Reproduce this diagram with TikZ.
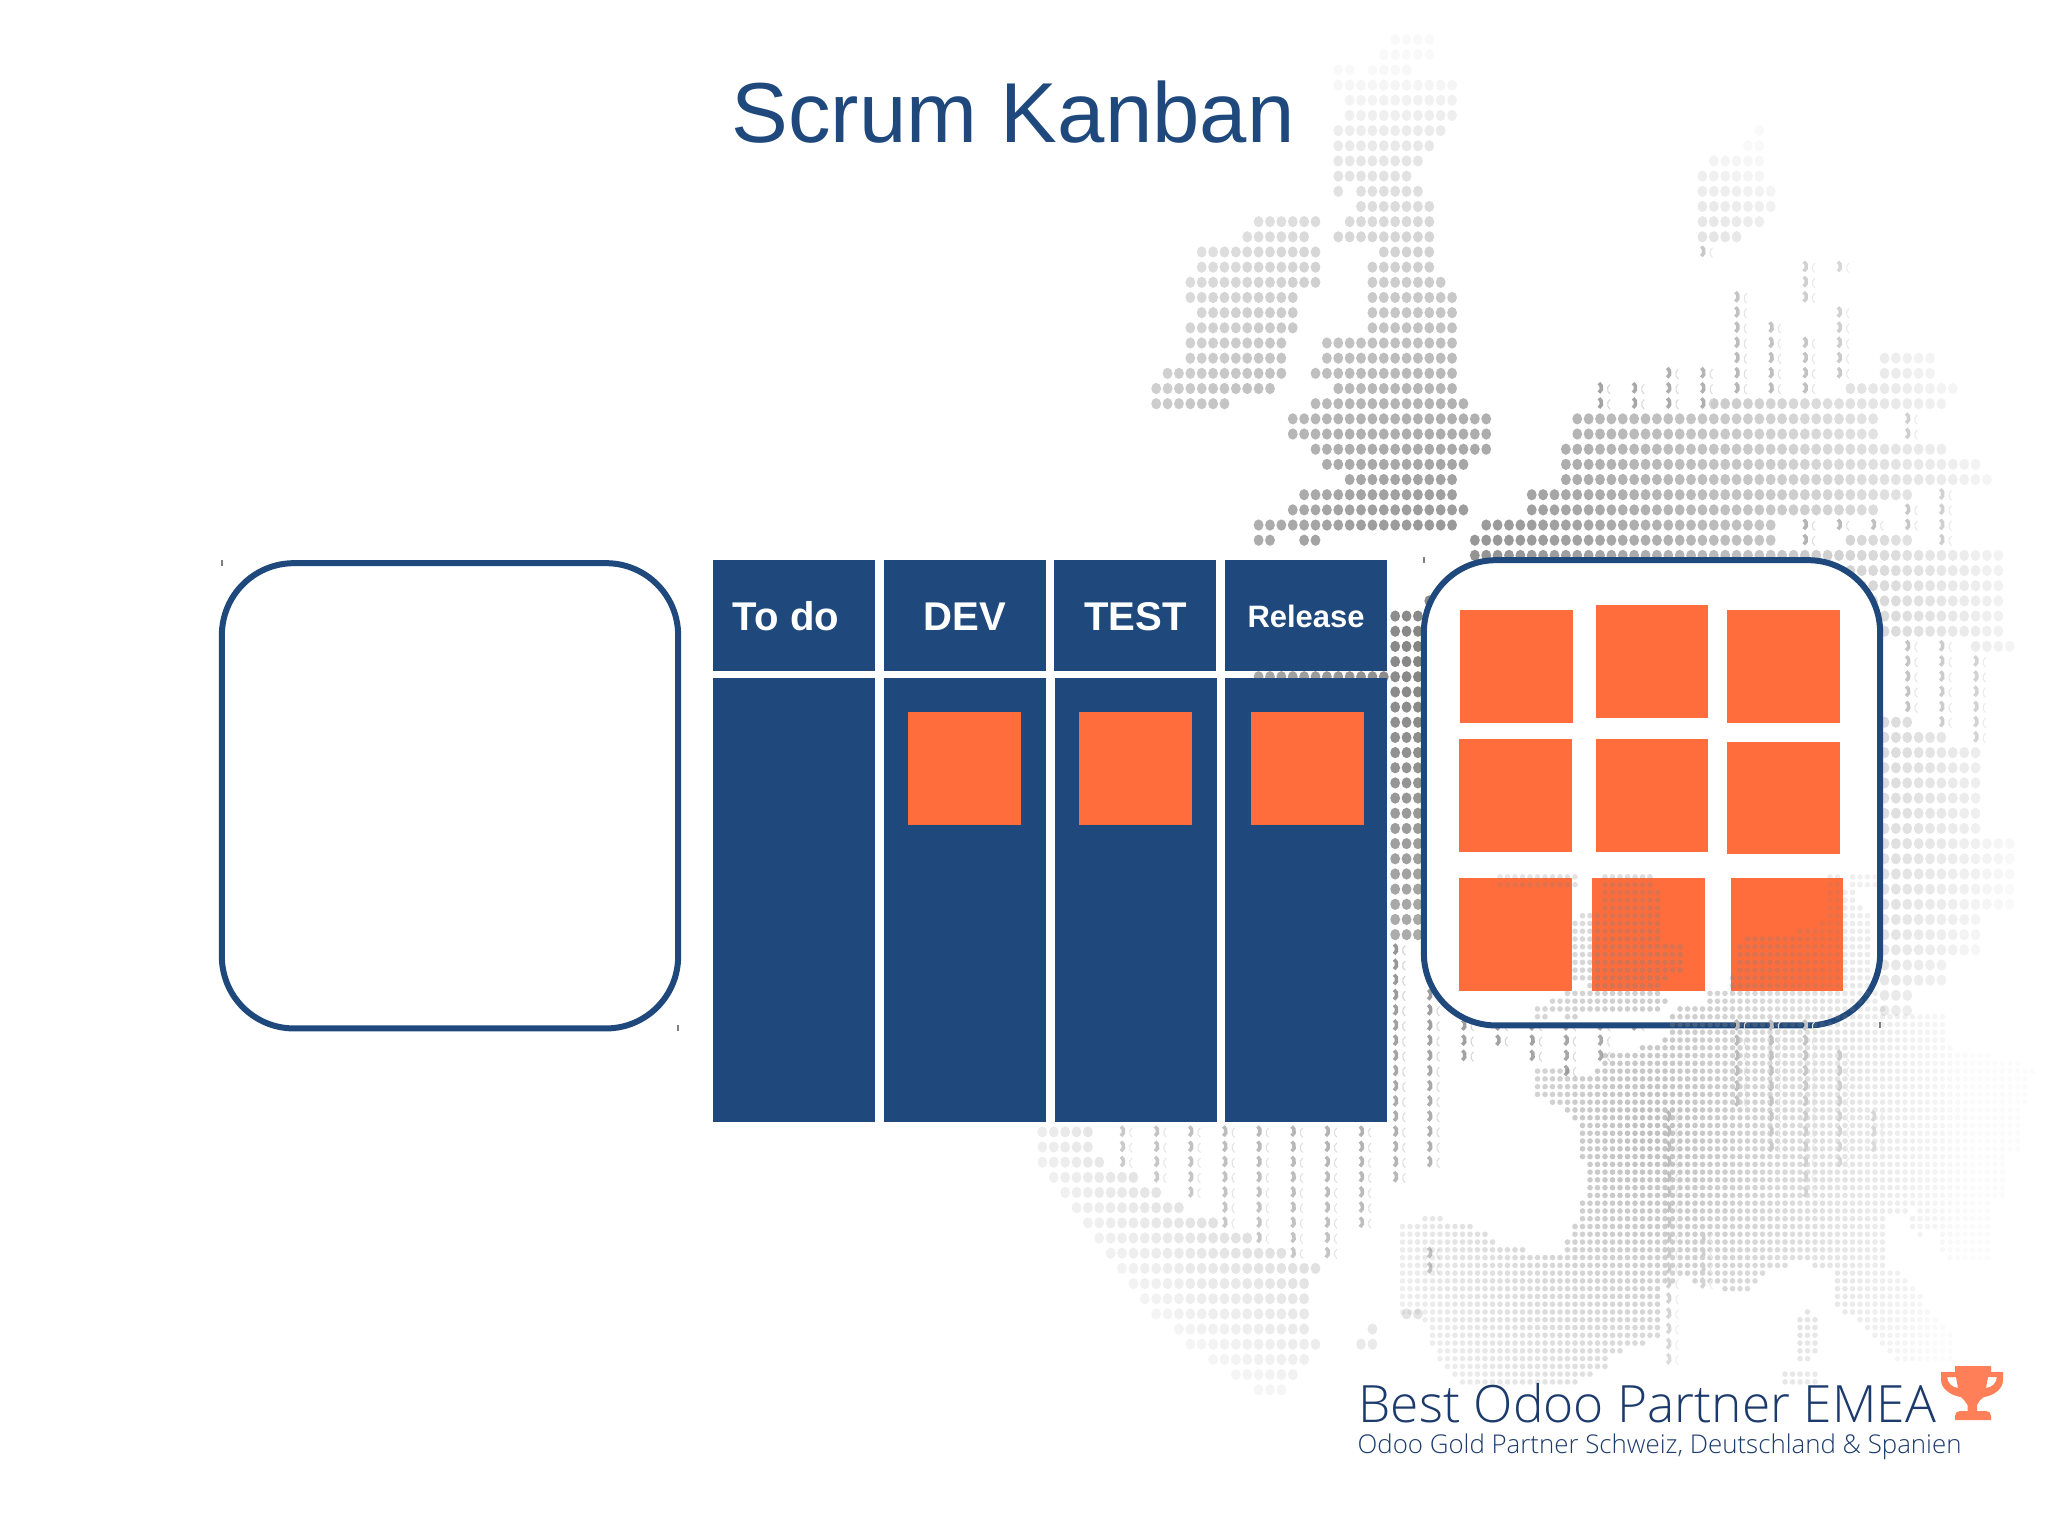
\documentclass[tikz,border=0pt]{standalone}
\usepackage{fontspec}
\setmainfont{Liberation Sans}
\newfontfamily\footfont{Open Sans Light}
\definecolor{boardblue}{HTML}{1F497D}
\definecolor{cardorange}{HTML}{FF6D3C}
\definecolor{cuporange}{HTML}{FF8058}
\definecolor{footnavy}{HTML}{1C3A6B}
\tikzset{
  headcell/.style={fill=boardblue,text=white,font=\bfseries\fontsize{11.4}{13}\selectfont,minimum width=1.62cm,minimum height=1.107cm,inner sep=0pt,text height=.30cm,text depth=0pt},
  bodycell/.style={fill=boardblue,minimum width=1.62cm,minimum height=4.434cm,inner sep=0pt},
  carddot/.style={fill=cardorange,minimum width=1.126cm,minimum height=1.126cm,inner sep=0pt},
  roundbox/.style={draw=boardblue,fill=white,line width=0.06cm,rounded corners=0.72cm,minimum width=4.56cm,minimum height=4.65cm,inner sep=0pt},
}
% dot grids of the map
\newcommand{\shadeat}{\pgfmathsetmacro\shd{max(2.5,50*(1-veclen((\px-1450)*(\px>1450?1.3:1.25),(\py-650)*(\py<650?1.3:.95))/800))}}
\newcommand{\dotrow}[2]{\foreach \ca/\cb in {#2}{\foreach \cc in {\ca,...,\cb}{
  \pgfmathsetmacro\px{1110.67+11.38*\cc}\pgfmathsetmacro\py{39.6+15.17*#1}\shadeat
  \fill[black!\shd] (\px,\py) ellipse (1.4pt and 1.6pt);}}}
\newcommand{\moonrow}[2]{\foreach \cc in {#2}{
  \pgfmathsetmacro\px{1110.67+11.38*\cc}\pgfmathsetmacro\py{39.6+15.17*#1}\shadeat
  \pgfmathsetmacro\shm{min(42,\shd+10)}\pgfmathsetmacro\shp{0.45*\shm}
  \draw[black!\shm,line width=1pt] (\px-3,\py) +(-65:1.3pt) arc (-65:65:1.3pt and 1.5pt);
  \draw[black!\shp,line width=0.3pt] (\px+12,\py) +(115:1.3pt) arc (115:245:1.3pt and 1.5pt);}}
\newcommand{\finerow}[2]{\foreach \ca/\cb in {#2}{\foreach \cc in {\ca,...,\cb}{
  \pgfmathsetmacro\px{1537.5+7.5*\cc}\pgfmathsetmacro\py{1016.7+7.77*#1}
  \pgfmathsetmacro\opc{max(.03,.5*(1-veclen((\px-1650)*(\px>1650?1.5:1.4),\py-1130)/520))}
  \fill[gray,fill opacity=\opc] (\px,\py) circle (.8pt);}}}
\begin{document}
\begin{tikzpicture}[x=0.01cm,y=-0.01cm]
  \useasboundingbox (0,0) rectangle (2048,1536);
  % coarse part of the map
  \dotrow{0}{25/28} \dotrow{1}{24/28} \dotrow{2}{20/21,23/26} \dotrow{3}{20/30}
  \dotrow{4}{21/30} \dotrow{5}{21/30} \dotrow{6}{20/29,57/57} \dotrow{7}{20/28,56/57}
  \dotrow{8}{20/27,53/57} \dotrow{9}{20/26,52/57} \dotrow{10}{20/20,22/27,52/58}
  \dotrow{11}{22/28,52/58} \dotrow{12}{13/18,21/28,52/57} \dotrow{13}{12/17,20/28,52/55}
  \dotrow{14}{8/18,24/28} \dotrow{15}{8/18,23/28} \dotrow{16}{7/18,23/29}
  \dotrow{17}{7/16,23/30} \dotrow{18}{8/16,23/30} \dotrow{19}{7/16,23/30}
  \dotrow{20}{7/15,19/30} \dotrow{21}{7/15,19/30,68/72} \dotrow{22}{5/15,18/30,68/72}
  \dotrow{23}{4/14,20/30,65/74} \dotrow{24}{4/10,18/31,53/73} \dotrow{25}{16/33,41/67}
  \dotrow{26}{16/33,41/67} \dotrow{27}{18/33,40/73} \dotrow{28}{19/31,40/76}
  \dotrow{29}{21/30,40/77} \dotrow{30}{17/30,37/70} \dotrow{31}{16/31,37/67}
  \dotrow{32}{13/30,33/58} \dotrow{33}{13/14,17/18,32/58,65/70} \dotrow{34}{32/78}
  \dotrow{35}{64/78} \dotrow{36}{64/78} \dotrow{37}{28/28,64/78} \dotrow{38}{25/27,64/78}
  \dotrow{39}{25/27,68/78} \dotrow{40}{25/27,76/79} \dotrow{41}{25/27} \dotrow{42}{13/27}
  \dotrow{43}{25/27} \dotrow{44}{25/27} \dotrow{45}{25/27,68/70} \dotrow{46}{25/27,68/73}
  \foreach \kk in {47,...,52}{\dotrow{\kk}{25/27,68/76}}
  \foreach \kk in {53,...,57}{\dotrow{\kk}{25/27,68/79}}
  \foreach \kk in {58,59}{\dotrow{\kk}{25/27,68/76}}
  \dotrow{60}{68/76} \dotrow{61}{68/73} \dotrow{62}{68/73} \dotrow{63}{68/70} \dotrow{64}{68/70}
  \dotrow{72}{-6/-2} \dotrow{73}{-6/-2} \dotrow{74}{-6/-1} \dotrow{75}{-5/2} \dotrow{76}{-4/4}
  \dotrow{77}{-3/6} \dotrow{78}{-2/9} \dotrow{79}{-1/12} \dotrow{80}{0/15} \dotrow{81}{1/18}
  \dotrow{82}{2/17} \dotrow{83}{3/17} \dotrow{84}{4/17,26/27} \dotrow{85}{6/17,23/23}
  \dotrow{86}{7/18,22/23} \dotrow{87}{9/17} \dotrow{88}{11/16} \dotrow{89}{13/15}
  \moonrow{14}{52} \moonrow{15}{61,64} \moonrow{16}{61} \moonrow{17}{55,61} \moonrow{18}{55,64}
  \moonrow{19}{55,58,64} \moonrow{20}{55,58,61,64} \moonrow{21}{55,58,61,64}
  \moonrow{22}{49,52,55,58,61,64} \moonrow{23}{43,46,49,52,55,58,61} \moonrow{24}{43,46,49,52}
  \moonrow{25}{70} \moonrow{26}{70} \moonrow{30}{73} \moonrow{31}{70,73}
  \moonrow{32}{61,64,67,70,73} \moonrow{33}{61,73} \moonrow{40}{70,73}
  \foreach \kk in {41,...,44}{\moonrow{\kk}{70,73,76}}
  \moonrow{45}{73,76} \moonrow{46}{76}
  \foreach \kk in {60,61,62}{\moonrow{\kk}{25}}
  \foreach \kk in {63,64}{\moonrow{\kk}{25,28}}
  \moonrow{65}{25,28,31,34,37,40,43,46}
  \moonrow{66}{25,28,31,34,37,40,43} \moonrow{67}{25,28,31,37,40,43} \moonrow{68}{25,28,40}
  \moonrow{69}{25,28} \moonrow{70}{25,28} \moonrow{71}{25,28}
  \foreach \kk in {72,73,74}{\moonrow{\kk}{1,4,7,10,13,16,19,22,25,28}}
  \moonrow{75}{4,7,10,13,16,19,22,25} \moonrow{76}{7,10,13,16,19,22} \moonrow{77}{10,13,16,19,22}
  \moonrow{78}{10,13,16,19,22} \moonrow{79}{13,16,19} \moonrow{80}{16,19,28} \moonrow{81}{28}
  % board
  \node[headcell] (todo) at (794,615.7) {To do\kern.16cm};
  \node[headcell] (dev) at (964.6,615.7) {DEV};
  \node[headcell] (test) at (1135.4,615.7) {TEST};
  \node[headcell,font=\bfseries\fontsize{8.8}{10}\selectfont,text height=.232cm] (release) at (1306,615.7) {Release};
  \node[bodycell] (todobody) at (794,900) {};
  \node[bodycell] (devbody) at (965,900) {};
  \node[bodycell] (testbody) at (1135.8,900) {};
  \node[bodycell] (releasebody) at (1306.3,900) {};
  \node[carddot] (devcard) at (964.8,768.2) {};
  \node[carddot] (testcard) at (1135.6,768.2) {};
  \node[carddot] (releasecard) at (1307.5,768.2) {};
  % the two boxes
  \node[roundbox] (leftbox) at (450,795.8) {};
  \node[roundbox] (rightbox) at (1652,792.8) {};
  \node[carddot] (done1) at (1516.3,666.5) {};
  \node[carddot] (done2) at (1652,661.7) {};
  \node[carddot] (done3) at (1783.2,666.5) {};
  \node[carddot] (done4) at (1515.5,795.7) {};
  \node[carddot] (done5) at (1652,795.7) {};
  \node[carddot] (done6) at (1783.3,798) {};
  \node[carddot] (done7) at (1515.5,934.7) {};
  \node[carddot] (done8) at (1648.7,934.7) {};
  \node[carddot] (done9) at (1787,934.7) {};
  \foreach \tx/\ty in {222/563,678/1028,1424/560,1880/1025}{
    \draw[gray,line width=.3pt] (\tx,\ty-3) -- (\tx,\ty+3);}
  % fine part of the map lies over the boxes
  \foreach \rr in {-18,-17}{\finerow{\rr}{-5/5,9/15,39/40,42/43,44/45}}
  \foreach \rr in {-16,-15}{\finerow{\rr}{9/16,39/42}}
  \finerow{-14}{9/16,39/43} \finerow{-13}{6/16,39/44} \finerow{-12}{5/16,38/44}
  \finerow{-11}{5/16,35/44} \finerow{-10}{5/16,28/44}
  \foreach \rr in {-9,...,-6}{\finerow{\rr}{5/19,27/44}}
  \finerow{-5}{5/17,26/44} \finerow{-4}{7/16,26/44} \finerow{-3}{4/16,23/45} \finerow{-2}{2/17,23/45}
  \finerow{-1}{0/16,19/46} \finerow{0}{0/1,4/5,18/54}
  \foreach \rr in {1,2}{\finerow{\rr}{18/54}}
  \finerow{3}{17/54} \finerow{4}{14/55} \finerow{5}{9/60} \finerow{6}{9/64} \finerow{7}{0/4,8/66}
  \foreach \rr in {8,9,10}{\finerow{\rr}{0/65}}
  \finerow{11}{2/65} \finerow{12}{4/64} \finerow{13}{5/64}
  \foreach \rr in {14,...,17}{\finerow{\rr}{6/64}}
  \finerow{18}{6/62}
  \foreach \rr in {19,...,23}{\finerow{\rr}{7/62}}
  \finerow{24}{6/60} \finerow{25}{6/49,51/60}
  \finerow{26}{-15/-13,6/46,50/60} \finerow{27}{-18/-9,5/46,50/60}
  \finerow{28}{-18/-7,5/46,51/51,54/60} \finerow{29}{-18/-6,4/46,54/60}
  \finerow{30}{-18/-2,4/46,54/60} \finerow{31}{-18/37,38/46,55/60}
  \finerow{32}{-18/33,37/46} \finerow{33}{-18/30,40/48} \finerow{34}{-18/18,21/29,40/49}
  \finerow{35}{-18/16,25/28,40/50} \finerow{36}{-18/16,40/51} \finerow{37}{-18/16,40/51}
  \finerow{38}{-18/16,36/36,41/52} \finerow{39}{-15/16,35/37,43/53} \finerow{40}{-14/16,35/37,44/54}
  \finerow{41}{-14/16,35/37,45/55} \finerow{42}{-14/14,35/37,46/55} \finerow{43}{-13/11,35/37,47/55}
  \finerow{44}{-13/9,35/36,48/55} \finerow{45}{-12/9} \finerow{46}{-11/7,33/37} \finerow{47}{-10/5,33/37}
  \foreach \kk in {71,...,87}{\moonrow{\kk}{49}}
  \foreach \kk in {79,...,82}{\moonrow{\kk}{52}}
  \foreach \kk in {65,...,70}{\moonrow{\kk}{55}}
  \foreach \kk in {65,...,73}{\moonrow{\kk}{58}}
  \foreach \kk in {65,...,76}{\moonrow{\kk}{61}}
  \foreach \kk in {67,...,74}{\moonrow{\kk}{64}}
  \foreach \kk in {71,...,73}{\moonrow{\kk}{67}}
  % texts
  \node[anchor=base,text=boardblue,font=\fontsize{24.2}{28}\selectfont,inner sep=0pt] (title) at (1013,142.5) {Scrum Kanban};
  \node[anchor=base west,text=footnavy,font=\footfont\fontsize{14.63}{18}\selectfont,inner sep=0pt] (partner) at (1358,1422.3) {Best Odoo Partner EMEA};
  \node[anchor=base west,text=footnavy,font=\footfont\fontsize{7.35}{10}\selectfont,inner sep=0pt] (gold) at (1357,1453.3) {Odoo Gold Partner Schweiz, Deutschland \& Spanien};
  % trophy
  \fill[cuporange,even odd rule] (1955,1366) -- (1991,1366) -- (1991,1372) -- (2003,1372) -- (2003,1380)
    .. controls (2003,1390) and (1992,1396) .. (1984,1397) .. controls (1980,1400) and (1978,1402) .. (1977,1405)
    -- (1977,1411) -- (1986,1411) .. controls (1989,1411) and (1991,1413) .. (1991,1416) -- (1991,1420) -- (1955,1420) -- (1955,1416)
    .. controls (1955,1413) and (1957,1411) .. (1960,1411) -- (1967.5,1411) -- (1967.5,1405)
    .. controls (1966,1402) and (1964,1400) .. (1961,1397) .. controls (1953,1396) and (1941,1390) .. (1941,1380) -- (1941,1372) -- (1955,1372) -- cycle
    (1947,1377) -- (1956,1377) -- (1958,1388) .. controls (1952,1387) and (1948,1384) .. (1947,1377) -- cycle
    (1997,1377) -- (1988,1377) -- (1986,1388) .. controls (1992,1387) and (1996,1384) .. (1997,1377) -- cycle;
\end{tikzpicture}
\end{document}
